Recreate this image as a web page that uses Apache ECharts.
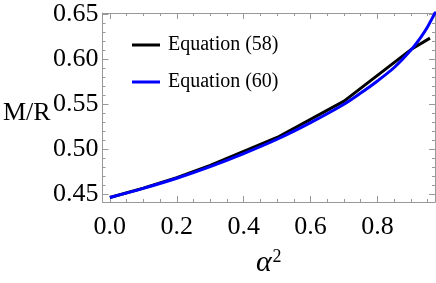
<!DOCTYPE html>
<html>
<head>
<meta charset="utf-8">
<script src="https://cdn.jsdelivr.net/npm/echarts@6/dist/echarts.min.js"></script>
<style>html,body{margin:0;padding:0;background:#fff}#c{width:436px;height:283px}</style>
</head>
<body>
<div id="c"></div>
<script>
// Data
const eq58X = [0.0, 0.1, 0.2, 0.3, 0.5, 0.7, 0.9, 0.957];
const eq58Y = [0.446, 0.4565, 0.4682, 0.4818, 0.5130, 0.5535, 0.6110, 0.6238];
const eq60X = [0.0, 0.1, 0.2, 0.3, 0.4, 0.5, 0.6, 0.7, 0.75, 0.8, 0.85, 0.9, 0.93, 0.95, 0.975];
const eq60Y = [0.446, 0.4562, 0.4675, 0.4805, 0.4950, 0.5110, 0.5295, 0.5500, 0.5625, 0.5760, 0.5910, 0.6105, 0.6250, 0.6365, 0.6540];
const xMajorTicks = [0.0, 0.2, 0.4, 0.6, 0.8];
const xMinorTicks = [0.0, 0.05, 0.1, 0.15, 0.2, 0.25, 0.3, 0.35, 0.4, 0.45, 0.5, 0.55, 0.6, 0.65, 0.7, 0.75, 0.8, 0.85, 0.9, 0.95];
const yMajorTicks = [0.45, 0.50, 0.55, 0.60, 0.65];
const yMinorTicks = [0.45, 0.46, 0.47, 0.48, 0.49, 0.50, 0.51, 0.52, 0.53, 0.54, 0.55, 0.56, 0.57, 0.58, 0.59, 0.60, 0.61, 0.62, 0.63, 0.64, 0.65];
const seriesNames = ['Equation (58)', 'Equation (60)'];

const X_MIN = -0.022, X_MAX = 0.972, Y_MIN = 0.441, Y_MAX = 0.6518;
const frameColor = '#999999';
const serif = '"Liberation Serif", "DejaVu Serif", serif';

function xAx(pos, ticks, len, labels, showLine, extra) {
  return Object.assign({
    type: 'value', position: pos, min: X_MIN, max: X_MAX,
    axisLine: { show: showLine, onZero: false, lineStyle: { color: frameColor, width: 1 } },
    axisTick: { show: true, inside: true, length: len, customValues: ticks, lineStyle: { color: frameColor } },
    axisLabel: labels ? { show: true, customValues: xMajorTicks, fontFamily: serif, fontSize: 26, color: '#000', margin: 12,
      formatter: v => v.toFixed(1) } : { show: false },
    splitLine: { show: false }
  }, extra || {});
}
function yAx(pos, ticks, len, labels, showLine, extra) {
  return Object.assign({
    type: 'value', position: pos, min: Y_MIN, max: Y_MAX,
    axisLine: { show: showLine, onZero: false, lineStyle: { color: frameColor, width: 1 } },
    axisTick: { show: true, inside: true, length: len, customValues: ticks, lineStyle: { color: frameColor } },
    axisLabel: labels ? { show: true, customValues: yMajorTicks, fontFamily: serif, fontSize: 26, color: '#000', margin: 4,
      formatter: v => v.toFixed(2) } : { show: false },
    splitLine: { show: false }
  }, extra || {});
}

const chart = echarts.init(document.getElementById('c'));
chart.setOption({
  animation: false,
  backgroundColor: '#fff',
  grid: { left: 102.5, right: 1, top: 13, bottom: 67, containLabel: false },
  xAxis: [
    xAx('bottom', xMajorTicks, 6, true, true, {
      name: '{a|α}{b|2}', nameLocation: 'middle', nameGap: 46,
      nameTextStyle: { rich: {
        a: { fontFamily: serif, fontStyle: 'italic', fontSize: 30, color: '#000' },
        b: { fontFamily: serif, fontSize: 18, color: '#000', verticalAlign: 'top', padding: [0, 0, 12, 1] }
      } }
    }),
    xAx('bottom', xMinorTicks, 3, false, false),
    xAx('top', xMajorTicks, 6, false, true),
    xAx('top', xMinorTicks, 3, false, false)
  ],
  yAxis: [
    yAx('left', yMajorTicks, 6, true, true),
    yAx('left', yMinorTicks, 3, false, false),
    yAx('right', yMajorTicks, 6, false, true),
    yAx('right', yMinorTicks, 3, false, false)
  ],
  legend: {
    orient: 'vertical', left: 127, top: 30, itemWidth: 28, itemHeight: 3, itemGap: 17,
    icon: 'rect',
    textStyle: { fontFamily: serif, fontSize: 20, color: '#000', padding: [0, 0, 0, 3] },
    data: seriesNames
  },
  graphic: [{
    type: 'text', left: 3, top: 100,
    style: { text: 'M/R', fontFamily: serif, fontSize: 26, fill: '#000' }
  }],
  series: [
    {
      name: seriesNames[0], type: 'line', xAxisIndex: 0, yAxisIndex: 0,
      data: eq58X.map((x, i) => [x, eq58Y[i]]),
      showSymbol: false, symbol: 'none', smooth: false,
      lineStyle: { color: '#000000', width: 3 }, itemStyle: { color: '#000000' }, z: 2
    },
    {
      name: seriesNames[1], type: 'line', xAxisIndex: 0, yAxisIndex: 0,
      data: eq60X.map((x, i) => [x, eq60Y[i]]),
      showSymbol: false, symbol: 'none', smooth: 0.3,
      lineStyle: { color: '#0000ff', width: 3 }, itemStyle: { color: '#0000ff' }, z: 3
    }
  ]
});
</script>
</body>
</html>
